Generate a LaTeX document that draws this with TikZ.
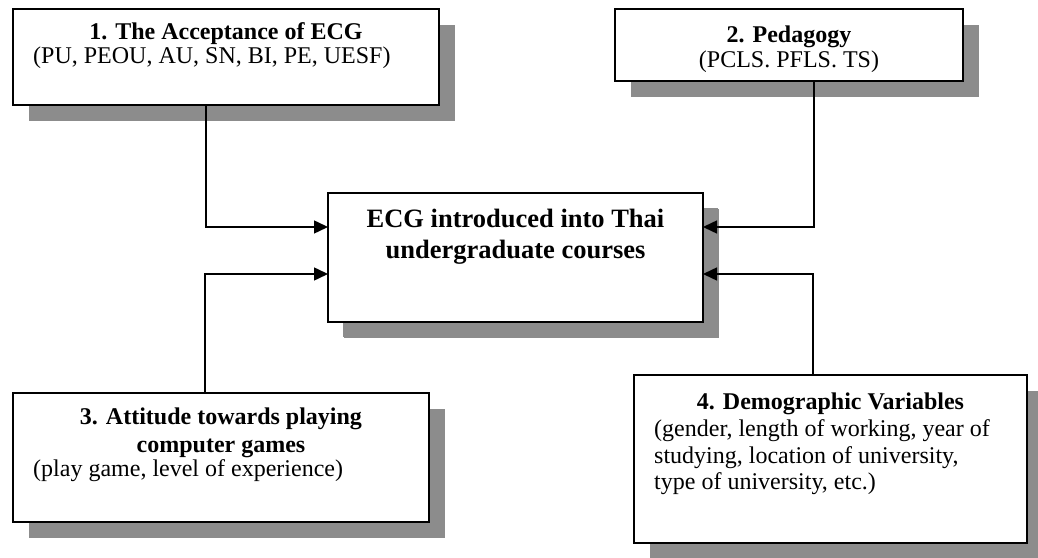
\documentclass[tikz,border=0pt]{standalone}
\usepackage{fontspec}
\setmainfont{Liberation Serif}
\usetikzlibrary{arrows.meta,shadows}

\begin{document}
\begin{tikzpicture}[x=1bp,y=-1bp,
  box/.style={draw=black, line width=2bp, fill=white, inner sep=0pt, outer sep=0pt,
    drop shadow={shadow xshift=16bp, shadow yshift=-16bp, fill=black!45, draw=none, opacity=1}},
  ttl/.style={font=\fontsize{24bp}{28bp}\selectfont\bfseries, inner sep=0pt, anchor=base, text depth=0pt},
  big/.style={font=\fontsize{26.5bp}{31bp}\selectfont\bfseries, inner sep=0pt, anchor=base, text depth=0pt},
  txt/.style={font=\fontsize{24bp}{28bp}\selectfont, inner sep=0pt, anchor=base west, text height=15bp},
  txtc/.style={font=\fontsize{24bp}{28bp}\selectfont, inner sep=0pt, anchor=base, text height=15bp},
  conn/.style={draw=black, line width=1.5bp, -{Triangle[length=14bp,width=13bp]}}
]
\useasboundingbox (0,0) rectangle (1038,558);

% boxes
\node[box, minimum width=426bp, minimum height=96bp]  (b1)  at (226,57) {};
\node[box, minimum width=348bp, minimum height=72bp]  (b2)  at (789,45) {};
\node[box, minimum width=375bp, minimum height=129bp, drop shadow={shadow xshift=15bp, shadow yshift=-15bp, fill=black!45, draw=none, opacity=1}] (ctr) at (515.5,257.5) {};
\node[box, minimum width=416bp, minimum height=129bp] (b3)  at (221,457.5) {};
\node[box, minimum width=393bp, minimum height=168bp] (b4)  at (830.5,459) {};

% box texts
\node[ttl] (t1) at (226,40) {1. The Acceptance of ECG};
\node[txt] (s1) at (33,64) {(PU, PEOU, AU, SN, BI, PE, UESF)};

\node[ttl]  (t2) at (789,43) {2. Pedagogy};
\node[txtc] (s2) at (789,68) {(PCLS. PFLS. TS)};

\node[big] (c1) at (515.5,228) {ECG introduced into Thai};
\node[big] (c2) at (515.5,259) {undergraduate courses};

\node[ttl] (t3a) at (221,424) {3. Attitude towards playing};
\node[ttl] (t3b) at (221,452) {computer games};
\node[txt] (s3)  at (33,476) {(play game, level of experience)};

\node[ttl] (t4)  at (830.5,409) {4. Demographic Variables};
\node[txt] (s4a) at (654,436) {(gender, length of working, year of};
\node[txt] (s4b) at (654,463) {studying, location of university,};
\node[txt] (s4c) at (654,489) {type of university, etc.)};

% arrow rows into the central box
\coordinate (rowA) at (0,227);
\coordinate (rowB) at (0,274);

% connectors
\draw[conn] ([xshift=-20bp]b1.south) |- (ctr.west |- rowA);
\draw[conn] ([xshift=-16bp]b3.north) |- (ctr.west |- rowB);
\draw[conn] ([xshift=25bp]b2.south)  |- (ctr.east |- rowA);
\draw[conn] ([xshift=-17.5bp]b4.north) |- (ctr.east |- rowB);
\end{tikzpicture}
\end{document}
